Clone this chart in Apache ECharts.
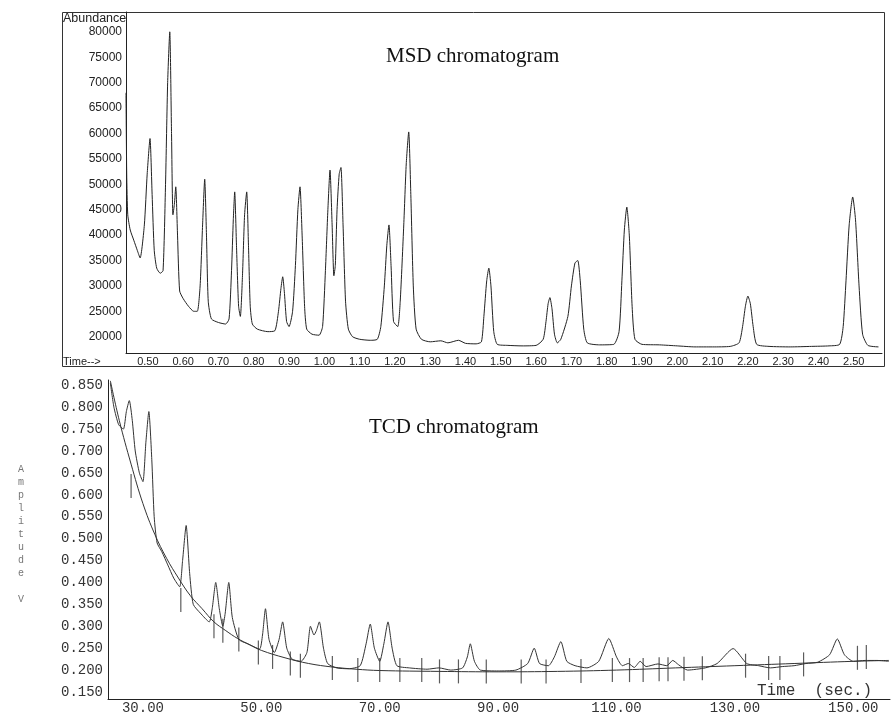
<!DOCTYPE html>
<html>
<head>
<meta charset="utf-8">
<script src="https://cdn.jsdelivr.net/npm/echarts@6/dist/echarts.min.js"></script>
<style>
  html, body { margin: 0; padding: 0; background: #fff; }
  #chart { width: 894px; height: 715px; }
</style>
</head>
<body>
<div id="chart"></div>
<script>
// MSD trace: [time (min), abundance]
const msdTrace = [
  [0.438,68000],[0.440,52000],[0.443,44000],[0.450,41000],[0.460,39000],[0.470,37000],[0.478,35500],
  [0.490,42000],[0.498,52000],[0.506,59000],[0.512,48000],[0.518,37000],[0.525,33500],[0.535,32500],[0.543,33000],
  [0.550,50000],[0.556,70000],[0.562,80000],[0.567,60000],[0.571,44000],[0.575,46000],[0.579,49500],[0.584,40000],
  [0.590,29000],[0.600,27500],[0.615,26000],[0.630,25000],[0.640,25000],
  [0.648,30000],[0.655,42000],[0.661,51000],[0.666,40000],[0.671,27000],[0.680,23500],[0.700,22800],[0.720,22500],[0.730,23500],
  [0.737,33000],[0.742,43000],[0.746,48500],[0.751,38000],[0.757,26000],[0.762,24000],
  [0.768,32000],[0.774,44000],[0.780,48500],[0.785,38000],[0.790,26000],[0.796,22500],[0.810,21500],[0.840,21000],[0.860,21200],
  [0.870,25000],[0.877,29500],[0.882,31800],[0.887,28500],[0.893,23000],[0.900,22000],[0.910,25000],
  [0.918,34000],[0.925,45000],[0.931,49500],[0.937,40000],[0.944,26000],[0.950,21500],[0.965,20500],[0.985,20300],[0.995,22000],
  [1.003,33000],[1.010,45000],[1.016,52800],[1.022,42000],[1.027,32000],[1.031,34000],
  [1.036,45000],[1.042,52000],[1.047,53300],[1.053,42000],[1.060,27000],[1.068,21500],[1.080,20000],[1.100,19500],[1.130,19300],[1.150,19500],[1.160,22000],
  [1.170,30000],[1.177,38000],[1.183,42000],[1.189,34000],[1.196,23000],[1.208,22000],
  [1.215,27000],[1.225,42000],[1.232,54000],[1.239,60300],[1.245,48000],[1.252,30000],[1.260,21500],[1.275,19500],
  [1.300,19000],[1.330,19200],[1.350,18800],[1.380,19300],[1.400,18700],[1.430,18600],[1.445,19000],
  [1.452,24000],[1.460,31000],[1.466,33500],[1.472,30000],[1.480,21000],[1.490,18500],[1.520,18300],[1.560,18200],[1.600,18300],[1.620,19500],
  [1.628,23000],[1.634,26500],[1.639,27700],[1.645,25500],[1.652,20500],[1.660,18800],[1.670,19500],
  [1.690,24000],[1.700,30000],[1.710,34500],[1.718,35000],[1.725,31000],[1.735,21500],[1.745,18800],[1.780,18400],[1.820,18500],[1.835,21000],
  [1.843,31000],[1.850,41000],[1.857,45500],[1.864,40000],[1.872,26000],[1.880,19500],[1.900,18500],[1.950,18400],
  [2.000,18200],[2.050,18000],[2.100,18000],[2.150,18100],[2.175,18800],
  [2.185,22000],[2.193,26000],[2.200,28000],[2.207,26500],[2.215,22000],[2.225,18500],[2.260,18100],[2.320,18000],[2.380,18100],[2.430,18200],[2.460,18500],[2.470,22000],
  [2.478,31000],[2.487,42000],[2.497,47500],[2.505,43000],[2.515,30000],[2.525,20500],[2.540,18300],[2.570,18000]
];

// TCD signal: [time (sec), amplitude V]
const tcdSignal = [
  [24.5,0.855],[25.1,0.80],[25.9,0.76],[26.7,0.75],[27.2,0.79],[27.7,0.815],[28.2,0.77],[28.7,0.70],[29.4,0.65],[30.0,0.63],
  [30.5,0.72],[31.0,0.79],[31.5,0.68],[31.9,0.55],[32.4,0.49],[33.2,0.47],[34.2,0.44],[35.2,0.41],[36.2,0.39],
  [36.7,0.45],[37.3,0.53],[37.9,0.42],[38.5,0.35],[39.7,0.33],[41.2,0.31],
  [41.7,0.34],[42.3,0.40],[42.9,0.34],[43.5,0.30],[43.9,0.33],[44.5,0.40],[45.1,0.32],[46.2,0.27],[47.7,0.26],[49.7,0.248],
  [50.2,0.28],[50.7,0.34],[51.3,0.27],[52.2,0.24],[53.0,0.27],[53.6,0.31],[54.3,0.25],[55.2,0.225],[56.7,0.22],
  [57.7,0.24],[58.3,0.30],[58.9,0.28],[59.3,0.29],[59.8,0.31],[60.5,0.25],[61.2,0.215],[62.7,0.205],[64.7,0.203],
  [66.7,0.21],[67.7,0.26],[68.4,0.305],[69.1,0.25],[70.0,0.22],[70.7,0.26],[71.4,0.31],[72.1,0.25],[72.9,0.21],
  [75.0,0.205],[78.0,0.202],[80.0,0.205],[82.0,0.20],[84.0,0.205],[84.8,0.23],[85.3,0.26],[86.0,0.22],[87.0,0.20],
  [90.0,0.198],[93.0,0.20],[95.0,0.215],[96.1,0.25],[97.0,0.215],[98.5,0.21],[99.5,0.23],[100.6,0.265],[101.6,0.22],
  [103.0,0.21],[105.0,0.205],[107.0,0.22],[108.7,0.272],[110.0,0.23],[111.0,0.21],[112.0,0.215],[113.0,0.206],[114.0,0.22],
  [115.0,0.208],[117.0,0.214],[118.5,0.21],[119.5,0.222],[120.5,0.212],[122.0,0.20],[125.0,0.205],[127.0,0.215],
  [129.7,0.249],[132.0,0.215],[134.0,0.21],[136.0,0.205],[138.0,0.208],[140.0,0.21],[142.0,0.215],[144.0,0.218],
  [146.0,0.235],[147.3,0.271],[148.5,0.235],[150.0,0.22],[152.0,0.222],[154.0,0.222],[156.0,0.22]
];

// TCD integration baseline
const tcdBaseline = [
  [24.5,0.86],[26,0.77],[28,0.67],[30,0.58],[32,0.51],[34,0.455],[36,0.41],[38,0.37],[40,0.34],[42,0.31],
  [44,0.29],[46,0.272],[48,0.258],[50,0.245],[54,0.228],[58,0.215],[62,0.207],[66,0.202],[70,0.199],
  [80,0.197],[90,0.196],[100,0.197],[110,0.20],[120,0.205],[130,0.21],[140,0.215],[150,0.22],[156,0.222]
];

// integration markers (time, level)
const tcdMarkTimes = [28.0, 36.4, 42.0, 43.5, 46.2, 49.5, 51.9, 54.9, 56.6, 62.0, 66.3, 70.0, 73.4, 77.1, 80.1, 83.3,
  88.0, 93.9, 98.1, 104.0, 109.3, 112.2, 114.5, 117.2, 118.7, 121.4, 124.5, 131.8, 135.7, 137.6, 141.6, 150.7, 152.2];
const tcdMarkLevels = [0.62, 0.36, 0.30, 0.29, 0.27, 0.24, 0.23, 0.215, 0.21, 0.205, 0.20, 0.20, 0.20, 0.20, 0.197, 0.197,
  0.197, 0.197, 0.197, 0.198, 0.20, 0.20, 0.20, 0.202, 0.202, 0.203, 0.204, 0.21, 0.205, 0.205, 0.213, 0.228, 0.23];

const msdTicks = [0.5,0.6,0.7,0.8,0.9,1.0,1.1,1.2,1.3,1.4,1.5,1.6,1.7,1.8,1.9,2.0,2.1,2.2,2.3,2.4,2.5];
const msdYTicks = [20000,25000,30000,35000,40000,45000,50000,55000,60000,65000,70000,75000,80000];
const tcdTicks = [30, 50, 70, 90, 110, 130, 150];
const tcdYTicks = [0.15,0.2,0.25,0.3,0.35,0.4,0.45,0.5,0.55,0.6,0.65,0.7,0.75,0.8,0.85];

const ink = '#222';
const chart = echarts.init(document.getElementById('chart'));

const option = {
  backgroundColor: '#fff',
  animation: false,
  grid: [
    { left: 126, top: 12, right: 12, bottom: 362 },
    { left: 108, top: 380, right: 4, bottom: 12 }
  ],
  xAxis: [
    {
      gridIndex: 0, type: 'value', min: 0.438, max: 2.58,
      axisLine: { lineStyle: { color: ink, width: 1 } },
      axisTick: { show: false },
      splitLine: { show: false },
      axisLabel: {
        customValues: msdTicks, margin: 3, color: ink,
        fontFamily: 'Liberation Sans', fontSize: 11,
        formatter: v => v.toFixed(2)
      }
    },
    {
      gridIndex: 1, type: 'value', min: 24.1, max: 156.2,
      axisLine: { lineStyle: { color: ink, width: 1 } },
      axisTick: { show: false },
      splitLine: { show: false },
      axisLabel: {
        customValues: tcdTicks, margin: 2, color: '#333',
        fontFamily: 'Liberation Mono', fontSize: 14,
        formatter: v => v.toFixed(2)
      }
    }
  ],
  yAxis: [
    {
      gridIndex: 0, type: 'value', min: 16800, max: 83900,
      axisLine: { show: true, lineStyle: { color: ink, width: 1 } },
      axisTick: { show: false },
      splitLine: { show: false },
      axisLabel: {
        customValues: msdYTicks, margin: 4, color: ink,
        fontFamily: 'Liberation Sans', fontSize: 12,
        formatter: v => String(v)
      }
    },
    {
      gridIndex: 1, type: 'value', min: 0.134, max: 0.862,
      axisLine: { show: true, lineStyle: { color: ink, width: 1 } },
      axisTick: { show: false },
      splitLine: { show: false },
      axisLabel: {
        customValues: tcdYTicks, margin: 5, color: '#333',
        fontFamily: 'Liberation Mono', fontSize: 14,
        formatter: v => v.toFixed(3)
      }
    }
  ],
  series: [
    {
      type: 'line', xAxisIndex: 0, yAxisIndex: 0, data: msdTrace,
      showSymbol: false, smooth: 0.2,
      lineStyle: { color: ink, width: 1 }
    },
    {
      type: 'line', xAxisIndex: 1, yAxisIndex: 1, data: tcdBaseline,
      showSymbol: false, smooth: 0.4,
      lineStyle: { color: '#333', width: 1 }
    },
    {
      type: 'line', xAxisIndex: 1, yAxisIndex: 1, data: tcdSignal,
      showSymbol: false, smooth: 0.2,
      lineStyle: { color: '#333', width: 1 }
    },
    {
      type: 'scatter', xAxisIndex: 1, yAxisIndex: 1,
      data: tcdMarkTimes.map((t, i) => [t, tcdMarkLevels[i]]),
      symbol: 'rect', symbolSize: [1.2, 24],
      itemStyle: { color: '#333' }
    }
  ],
  graphic: [
    { type: 'rect', shape: { x: 62.5, y: 12.5, width: 822, height: 354 },
      style: { fill: 'none', stroke: '#333', lineWidth: 1 }, silent: true },
    { type: 'text', left: 63, top: 12,
      style: { text: 'Abundance', font: '12.5px "Liberation Sans"', fill: ink } },
    { type: 'text', left: 63, top: 356,
      style: { text: 'Time-->', font: '11px "Liberation Sans"', fill: ink } },
    { type: 'text', left: 386, top: 46,
      style: { text: 'MSD chromatogram', font: '21px "Liberation Serif"', fill: '#111' } },
    { type: 'text', left: 369, top: 417,
      style: { text: 'TCD chromatogram', font: '21px "Liberation Serif"', fill: '#111' } },
    { type: 'text', left: 757, top: 683,
      style: { text: 'Time  (sec.)', font: '16px "Liberation Mono"', fill: '#333' } },
    { type: 'text', left: 18, top: 463,
      style: { text: 'A\nm\np\nl\ni\nt\nu\nd\ne\n\nV', font: '10px "Liberation Mono"', fill: '#777', lineHeight: 13 } }
  ]
};

chart.setOption(option);
</script>
</body>
</html>
